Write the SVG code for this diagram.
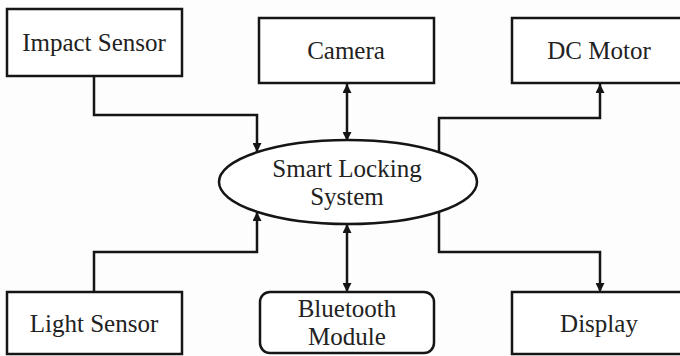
<svg xmlns="http://www.w3.org/2000/svg" width="680" height="356" viewBox="0 0 680 356">
  <defs>
    <style>
      .box { fill: #ffffff; stroke: #151515; stroke-width: 2.5; }
      .link { fill: none; stroke: #151515; stroke-width: 2.5; }
      .label { font-family: "Liberation Serif", "Times New Roman", serif; font-size: 25px; fill: #222222; text-anchor: middle; }
    </style>
    <marker id="arrow" viewBox="0 0 10 10" refX="10" refY="5" markerWidth="10" markerHeight="9" markerUnits="userSpaceOnUse" orient="auto-start-reverse">
      <path d="M0,0 L10,5 L0,10 z" fill="#151515"/>
    </marker>
  </defs>
  <rect width="680" height="356" fill="#fdfdfd"/>

  <!-- connectors -->
  <g id="connectors">
    <path class="link" d="M94,76 V115 H257 V152" marker-end="url(#arrow)"/>
    <path class="link" d="M94,292 V252 H257 V212" marker-end="url(#arrow)"/>
    <path class="link" d="M439,152 V118 H600 V84" marker-end="url(#arrow)"/>
    <path class="link" d="M439,212 V252 H600 V292" marker-end="url(#arrow)"/>
    <path class="link" d="M347,84 V141" marker-start="url(#arrow)" marker-end="url(#arrow)"/>
    <path class="link" d="M347,224 V292" marker-start="url(#arrow)" marker-end="url(#arrow)"/>
  </g>

  <g id="impact-sensor">
    <rect class="box" x="7" y="9" width="175" height="67"/>
    <text class="label" x="94" y="51">Impact Sensor</text>
  </g>
  <g id="camera">
    <rect class="box" x="259" y="18" width="175" height="65"/>
    <text class="label" x="346" y="59">Camera</text>
  </g>
  <g id="dc-motor">
    <rect class="box" x="512" y="18" width="180" height="65"/>
    <text class="label" x="599" y="59">DC Motor</text>
  </g>
  <g id="smart-locking-system">
    <ellipse class="box" cx="348" cy="182" rx="129" ry="42"/>
    <text class="label" x="347" y="177">Smart Locking</text>
    <text class="label" x="347" y="205">System</text>
  </g>
  <g id="light-sensor">
    <rect class="box" x="7" y="292" width="175" height="62"/>
    <text class="label" x="94" y="332">Light Sensor</text>
  </g>
  <g id="bluetooth-module">
    <rect class="box" x="260" y="292" width="174" height="61" rx="10" ry="10"/>
    <text class="label" x="347" y="317">Bluetooth</text>
    <text class="label" x="347" y="345">Module</text>
  </g>
  <g id="display">
    <rect class="box" x="512" y="292" width="180" height="62"/>
    <text class="label" x="599" y="332">Display</text>
  </g>
</svg>
